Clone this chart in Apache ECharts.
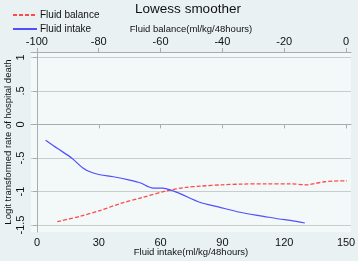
<!DOCTYPE html>
<html>
<head>
<meta charset="utf-8">
<script src="https://cdn.jsdelivr.net/npm/echarts@6/dist/echarts.min.js"></script>
<style>
html,body{margin:0;padding:0;background:#e9f1f3;}
#c{width:358px;height:261px;}
</style>
</head>
<body>
<div id="c"></div>
<script>
// Fluid balance (top axis, ml/kg/48hours) vs logit
const balanceX = [-93.4, -86, -80, -73, -66, -58, -52, -47, -40, -34, -26, -18, -13, -10, -7, -4, 0.3];
const balanceY = [-1.45, -1.37, -1.29, -1.18, -1.09, -0.99, -0.94, -0.92, -0.90, -0.89, -0.885, -0.885, -0.90, -0.88, -0.855, -0.845, -0.84];
// Fluid intake (bottom axis, ml/kg/48hours) vs logit
const intakeX = [4.2, 10, 16.8, 22.3, 26, 30.6, 37, 45, 50, 56.4, 61, 65, 70, 79, 88, 98.5, 110, 117.5, 123, 130];
const intakeY = [-0.236, -0.36, -0.5, -0.65, -0.71, -0.75, -0.78, -0.83, -0.87, -0.95, -0.95, -0.98, -1.04, -1.16, -1.23, -1.31, -1.37, -1.41, -1.43, -1.47];
const bottomTicks = [0, 30, 60, 90, 120, 150];
const topTicks = [-100, -80, -60, -40, -20, 0];
const yTicks = [-1.5, -1, -0.5, 0, 0.5, 1];

const fmtY = v => {
  let s = String(Math.round(v * 10) / 10);
  return s.replace(/^0\./, '.').replace(/^-0\./, '-.');
};
const font = 'Liberation Sans, Arial, sans-serif';
const axisGray = '#a9adae';

const chart = echarts.init(document.getElementById('c'), null, {renderer: 'canvas'});
chart.setOption({
  backgroundColor: '#e9f1f3',
  animation: false,
  textStyle: {fontFamily: font},
  title: {
    text: 'Lowess smoother', left: 188, top: 2, padding: 0, textAlign: 'center',
    textStyle: {fontSize: 13.5, fontWeight: 'normal', color: '#111', fontFamily: font}
  },
  legend: {
    orient: 'vertical', left: 12, top: 10, padding: 0, itemWidth: 24, itemHeight: 10, itemGap: 4,
    itemStyle: {opacity: 0},
    textStyle: {fontSize: 10, color: '#111', fontFamily: font, padding: [0,0,0,-2], lineHeight: 10},
    data: ['Fluid balance', 'Fluid intake']
  },
  grid: {left: 31, right: 7, top: 52, bottom: 29, show: true, backgroundColor: '#f3f8f9', borderWidth: 0,
         containLabel: false, outerBoundsMode: 'none'},
  xAxis: [
    {
      type: 'value', position: 'bottom', min: -2.9, max: 152.4,
      name: 'Fluid intake(ml/kg/48hours)', nameLocation: 'middle', nameGap: 15, nameMoveOverlap: false,
      nameTextStyle: {fontSize: 9.5, color: '#111', fontFamily: font},
      axisLine: {show: true, lineStyle: {color: axisGray, width: 1}},
      axisTick: {show: true, length: 4, lineStyle: {color: axisGray}, customValues: bottomTicks},
      axisLabel: {fontSize: 11, color: '#111', margin: 5, customValues: bottomTicks, fontFamily: font},
      splitLine: {show: false}
    },
    {
      type: 'value', position: 'top', min: -101.9, max: 1.6,
      name: 'Fluid balance(ml/kg/48hours)', nameLocation: 'middle', nameGap: 18, nameMoveOverlap: false,
      nameTextStyle: {fontSize: 9.5, color: '#111', fontFamily: font},
      axisLine: {show: true, lineStyle: {color: axisGray, width: 1}},
      axisTick: {show: true, length: 4, lineStyle: {color: axisGray}, customValues: topTicks},
      axisLabel: {fontSize: 11, color: '#111', margin: 5, customValues: topTicks, fontFamily: font},
      splitLine: {show: false}
    }
  ],
  yAxis: {
    type: 'value', min: -1.604, max: 1.08,
    name: 'Logit transformed rate of hospital death', nameLocation: 'middle', nameGap: 18, nameMoveOverlap: false,
    nameTextStyle: {fontSize: 9.5, color: '#111', fontFamily: font},
    axisLine: {show: true, lineStyle: {color: axisGray, width: 1}},
    axisTick: {show: true, length: 4, lineStyle: {color: axisGray}, customValues: yTicks},
    axisLabel: {fontSize: 11, color: '#111', margin: 5, rotate: 90, customValues: yTicks, formatter: fmtY, fontFamily: font},
    splitLine: {show: true, lineStyle: {color: '#c9cccd', width: 1}}
  },
  series: [
    {
      name: 'Fluid balance', type: 'line', xAxisIndex: 1, symbol: 'none', smooth: 0.3,
      lineStyle: {color: '#ff4a4a', width: 1.3, type: [4, 2]},
      itemStyle: {color: '#ff4a4a'},
      data: balanceX.map((x, i) => [x, balanceY[i]])
    },
    {
      name: 'Fluid intake', type: 'line', xAxisIndex: 0, symbol: 'none', smooth: 0.3,
      lineStyle: {color: '#4f4fff', width: 1.2},
      itemStyle: {color: '#4f4fff'},
      data: intakeX.map((x, i) => [x, intakeY[i]])
    }
  ]
});
</script>
</body>
</html>
